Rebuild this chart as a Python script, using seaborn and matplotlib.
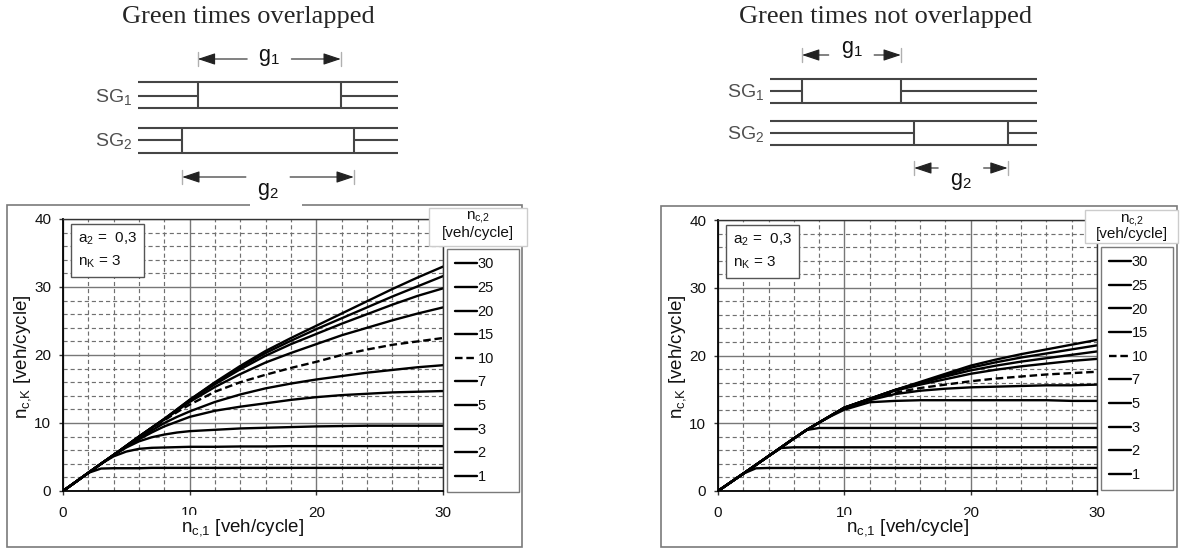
import numpy as np
import pandas as pd
import matplotlib
matplotlib.use("Agg")
import matplotlib.pyplot as plt
import seaborn as sns
from matplotlib.patches import Rectangle

# ---------------- data ----------------
x_vals = [0, 1, 2, 3, 4, 5, 6, 7, 8, 9, 10, 12, 14, 16, 18, 20, 22, 24, 26, 28, 30]
n_c2_labels = ["1", "2", "3", "5", "7", "10", "15", "20", "25", "30"]

# Green times overlapped
ov_1 = [0, 1.33, 2.67, 3.30, 3.35, 3.35, 3.35, 3.4, 3.4, 3.4, 3.4, 3.4, 3.4, 3.4, 3.4, 3.4, 3.4, 3.4, 3.4, 3.4, 3.4]
ov_2 = [0, 1.33, 2.67, 4.0, 5.1, 5.8, 6.2, 6.35, 6.4, 6.45, 6.5, 6.5, 6.55, 6.55, 6.6, 6.6, 6.6, 6.6, 6.6, 6.6, 6.6]
ov_3 = [0, 1.33, 2.67, 4.0, 5.3, 6.4, 7.3, 7.9, 8.3, 8.6, 8.8, 9.0, 9.2, 9.3, 9.4, 9.5, 9.55, 9.6, 9.6, 9.6, 9.6]
ov_5 = [0, 1.33, 2.67, 4.0, 5.3, 6.5, 7.6, 8.6, 9.5, 10.2, 10.9, 11.8, 12.4, 12.9, 13.4, 13.8, 14.1, 14.3, 14.5, 14.6, 14.7]
ov_7 = [0, 1.33, 2.67, 4.0, 5.3, 6.55, 7.8, 8.9, 10.0, 10.9, 11.7, 13.1, 14.2, 15.1, 15.8, 16.4, 16.9, 17.4, 17.8, 18.2, 18.5]
ov_10 = [0, 1.33, 2.67, 4.0, 5.3, 6.6, 7.9, 9.2, 10.4, 11.6, 12.7, 14.6, 16.0, 17.1, 18.1, 19.0, 20.0, 20.8, 21.5, 22.0, 22.5]
ov_15 = [0, 1.33, 2.67, 4.0, 5.3, 6.65, 8.0, 9.3, 10.5, 11.8, 13.1, 15.3, 17.2, 18.9, 20.3, 21.6, 22.9, 24.0, 25.1, 26.1, 27.0]
ov_20 = [0, 1.33, 2.67, 4.0, 5.3, 6.65, 8.0, 9.3, 10.6, 11.9, 13.3, 15.7, 17.9, 19.9, 21.6, 23.1, 24.6, 26.0, 27.4, 28.7, 29.8]
ov_25 = [0, 1.33, 2.67, 4.0, 5.3, 6.65, 8.0, 9.3, 10.6, 12.0, 13.4, 15.9, 18.2, 20.3, 22.1, 23.8, 25.4, 27.0, 28.6, 30.1, 31.6]
ov_30 = [0, 1.33, 2.67, 4.0, 5.3, 6.65, 8.0, 9.3, 10.6, 12.0, 13.4, 16.0, 18.4, 20.6, 22.5, 24.3, 26.1, 27.9, 29.7, 31.4, 33.0]

# Green times not overlapped
no_1 = [0, 1.28, 2.56, 3.35, 3.4, 3.4, 3.4, 3.4, 3.4, 3.4, 3.4, 3.4, 3.4, 3.4, 3.4, 3.4, 3.4, 3.4, 3.4, 3.4, 3.4]
no_2 = [0, 1.28, 2.56, 3.85, 5.15, 6.35, 6.45, 6.45, 6.45, 6.45, 6.45, 6.45, 6.45, 6.45, 6.45, 6.45, 6.45, 6.45, 6.45, 6.45, 6.45]
no_3 = [0, 1.28, 2.56, 3.85, 5.15, 6.45, 7.75, 9.0, 9.3, 9.3, 9.3, 9.3, 9.3, 9.3, 9.3, 9.3, 9.3, 9.3, 9.3, 9.3, 9.3]
no_5 = [0, 1.28, 2.56, 3.85, 5.15, 6.45, 7.75, 9.0, 10.1, 11.1, 12.0, 13.1, 13.3, 13.4, 13.4, 13.4, 13.4, 13.4, 13.4, 13.3, 13.3]
no_7 = [0, 1.28, 2.56, 3.85, 5.15, 6.45, 7.75, 9.0, 10.1, 11.2, 12.2, 13.4, 14.3, 14.8, 15.1, 15.3, 15.4, 15.5, 15.6, 15.6, 15.7]
no_10 = [0, 1.28, 2.56, 3.85, 5.15, 6.45, 7.75, 9.0, 10.1, 11.2, 12.3, 13.5, 14.5, 15.2, 15.7, 16.2, 16.6, 16.9, 17.2, 17.4, 17.6]
no_15 = [0, 1.28, 2.56, 3.85, 5.15, 6.45, 7.75, 9.0, 10.1, 11.2, 12.3, 13.6, 14.8, 15.7, 16.5, 17.3, 17.9, 18.4, 18.8, 19.2, 19.5]
no_20 = [0, 1.28, 2.56, 3.85, 5.15, 6.45, 7.75, 9.0, 10.1, 11.2, 12.3, 13.6, 14.9, 15.9, 16.9, 17.8, 18.5, 19.1, 19.6, 20.1, 20.6]
no_25 = [0, 1.28, 2.56, 3.85, 5.15, 6.45, 7.75, 9.0, 10.1, 11.2, 12.3, 13.6, 14.9, 16.0, 17.1, 18.2, 19.0, 19.7, 20.3, 20.9, 21.5]
no_30 = [0, 1.28, 2.56, 3.85, 5.15, 6.45, 7.75, 9.0, 10.1, 11.2, 12.3, 13.6, 14.9, 16.1, 17.3, 18.5, 19.4, 20.2, 20.9, 21.6, 22.3]

overlap_curves = [ov_1, ov_2, ov_3, ov_5, ov_7, ov_10, ov_15, ov_20, ov_25, ov_30]
notoverlap_curves = [no_1, no_2, no_3, no_5, no_7, no_10, no_15, no_20, no_25, no_30]

x_ticks = [0, 10, 20, 30]
y_ticks = [0, 10, 20, 30, 40]

# signal-group schematic (cycle in % of cycle time)
ov_sg1_green = (23, 78)
ov_sg2_green = (17, 83)
no_sg1_green = (12, 49)
no_sg2_green = (54, 89)

# ---------------- style ----------------
sns.set_theme(style="ticks")
plt.rcParams['font.family'] = ['Liberation Sans', 'DejaVu Sans']
plt.rcParams['mathtext.fontset'] = 'custom'
plt.rcParams['mathtext.rm'] = 'Liberation Sans'
plt.rcParams['mathtext.it'] = 'Liberation Sans:italic'
plt.rcParams['mathtext.default'] = 'regular'

W, H = 1183, 548
fig = plt.figure(figsize=(W / 100, H / 100), dpi=100)
fig.patch.set_facecolor('white')


def fr(x0, y0, x1, y1):
    return [x0 / W, 1 - y1 / H, (x1 - x0) / W, (y1 - y0) / H]


panels = [
    dict(title="Green times overlapped", title_xy=(248, 17), outer=(7, 205, 522, 547),
         axes=(63, 219, 443, 491), curves=overlap_curves,
         legend=(447, 492, 519), titlebox=(429, 208, 527, 246), tb_x=478, tb_y=(217, 233),
         diag=(138, 398), bands=((82, 96, 108), (128, 140, 153)),
         greens=(ov_sg1_green, ov_sg2_green),
         arrows=((59, 57, "g$_1$"), (177, 191, "g$_2$")),
         xlabel_x=243, white_gap=(250, 170, 302, 209)),
    dict(title="Green times not overlapped", title_xy=(886, 17), outer=(661, 206, 1177, 547),
         axes=(718, 220, 1097, 491), curves=notoverlap_curves,
         legend=(1101, 490, 1173), titlebox=(1085, 210, 1178, 243), tb_x=1132, tb_y=(220, 234),
         diag=(770, 1037), bands=((79, 91, 103), (121, 133, 145)),
         greens=(no_sg1_green, no_sg2_green),
         arrows=((55, 50, "g$_1$"), (168, 181, "g$_2$")),
         xlabel_x=908, white_gap=None),
]

line_col = '#454545'

for p in panels:
    # title
    fig.text(p['title_xy'][0] / W, 1 - p['title_xy'][1] / H, p['title'],
             family=['Liberation Serif', 'DejaVu Serif'], fontsize=19,
             ha='center', va='center')

    # outer frame
    ox0, oy0, ox1, oy1 = p['outer']
    fig.add_artist(Rectangle((ox0 / W, 1 - oy1 / H), (ox1 - ox0) / W, (oy1 - oy0) / H,
                             transform=fig.transFigure, fill=False, edgecolor='#7a7a7a',
                             lw=1.2, zorder=0.5))
    if p['white_gap'] is not None:
        gx0, gy0, gx1, gy1 = p['white_gap']
        fig.add_artist(Rectangle((gx0 / W, 1 - gy1 / H), (gx1 - gx0) / W, (gy1 - gy0) / H,
                                 transform=fig.transFigure, facecolor='white',
                                 edgecolor='none', zorder=3))

    # ---------- schematic ----------
    dx0, dx1 = p['diag']
    dax = fig.add_axes(fr(dx0, 40, dx1, 200), zorder=4)
    dax.set_xlim(0, 100)
    dax.set_ylim(200, 40)
    dax.axis('off')
    dax.patch.set_alpha(0)
    for i, ((top, mid, bot), (gs, ge)) in enumerate(zip(p['bands'], p['greens'])):
        for xs, ys in (([0, 100], [top, top]), ([0, 100], [bot, bot]),
                       ([0, gs], [mid, mid]), ([ge, 100], [mid, mid]),
                       ([gs, gs], [top, bot]), ([ge, ge], [top, bot])):
            dax.plot(xs, ys, color=line_col, lw=1.5, solid_capstyle='butt')
        dax.text(-2.2, mid + 1, "SG$_{%d}$" % (i + 1), ha='right', va='center',
                 fontsize=14, color='#505050')
        ay, ly, lab = p['arrows'][i]
        cen = (gs + ge) / 2
        gap = 8.5
        for end, start in ((gs, cen - gap), (ge, cen + gap)):
            dax.plot([end, end], [ay - 7, ay + 7], color='#b0b0b0', lw=1.0)
            dax.annotate("", xy=(end, ay), xytext=(start, ay),
                         arrowprops=dict(arrowstyle="-|>,head_length=0.9,head_width=0.3",
                                         color='#222222', lw=0.8, shrinkA=0, shrinkB=0))
        dax.text(cen, ly, lab, ha='center', va='center', fontsize=15.5, color='#111111')

    # ---------- chart ----------
    ax = fig.add_axes(fr(*p['axes']))
    rows = []
    for lab, ys in zip(n_c2_labels, p['curves']):
        for xv, yv in zip(x_vals, ys):
            rows.append((xv, yv, lab))
    df = pd.DataFrame(rows, columns=['x', 'y', 'n'])
    dashes = {lab: ((3.2, 1.6) if lab == "10" else "") for lab in n_c2_labels}
    sns.lineplot(data=df, x='x', y='y', hue='n', style='n', hue_order=n_c2_labels,
                 style_order=n_c2_labels, palette=['black'] * len(n_c2_labels),
                 dashes=dashes, estimator=None, lw=1.7, legend=False, ax=ax)

    ax.set_xlim(0, 30)
    ax.set_ylim(0, 40)
    ax.set_xticks(x_ticks)
    ax.set_yticks(y_ticks)
    ax.set_xticks([v for v in range(2, 30, 2) if v % 10], minor=True)
    ax.set_yticks([v for v in range(2, 40, 2) if v % 10], minor=True)
    ax.set_axisbelow(True)
    ax.grid(which='major', color='#777777', lw=1.0, ls='-')
    ax.grid(which='minor', color='#707070', lw=0.85, ls=(0, (3.5, 2.5)))
    ax.tick_params(which='minor', length=0)
    ax.tick_params(axis='x', which='major', direction='out', length=3, width=1,
                   color='#333333', labelsize=11, pad=8, labelcolor='#111111')
    ax.tick_params(axis='y', which='major', direction='out', length=3, width=1,
                   color='#333333', labelsize=11, pad=5.5, labelcolor='#111111')
    for s in ['left', 'bottom']:
        ax.spines[s].set_color('black')
        ax.spines[s].set_linewidth(1.3)
    for s in ['top', 'right']:
        ax.spines[s].set_color('#333333')
        ax.spines[s].set_linewidth(1.0)

    ax.set_xlabel("n$_{c{,}1}$ [veh/cycle]", fontsize=13.5, color='#111111',
                  bbox=dict(facecolor='white', edgecolor='none', boxstyle='square,pad=0.15'))
    ax.xaxis.set_label_coords((p['xlabel_x'] - p['axes'][0]) / (p['axes'][2] - p['axes'][0]),
                              (p['axes'][3] - 528) / (p['axes'][3] - p['axes'][1]))
    ax.xaxis.label.set_va('center')
    ax.set_ylabel("n$_{c{,}K}$ [veh/cycle]", fontsize=13.5, color='#111111')
    ax.yaxis.set_label_coords(-40 / (p['axes'][2] - p['axes'][0]), 0.495)
    ax.yaxis.label.set_va('center')

    # parameter box
    ax.text(0.04, 0.885, "a$_2$ =  0,3\nn$_K$ = 3", transform=ax.transAxes,
            ha='left', va='center', fontsize=11, linespacing=1.55, color='#111111',
            bbox=dict(boxstyle='square,pad=0.45', facecolor='white', edgecolor='#555555', lw=1))

    # legend
    handles = ax.get_lines()[::-1]
    labels = n_c2_labels[::-1]
    lx0, ly1, lx1 = p['legend']
    leg = ax.legend(handles, labels, loc='lower left',
                    bbox_to_anchor=(lx0 / W, 1 - ly1 / H, (lx1 - lx0) / W, 0.0),
                    bbox_transform=fig.transFigure, mode='expand', frameon=True,
                    fancybox=False, edgecolor='#7a7a7a', framealpha=1, fontsize=10.5,
                    handlelength=1.5, handletextpad=0.05, labelspacing=0.66,
                    borderpad=0.55, borderaxespad=0)
    leg.get_frame().set_linewidth(1.0)
    for t in leg.get_texts():
        t.set_color('#111111')

    # legend title box
    tx0, ty0, tx1, ty1 = p['titlebox']
    fig.add_artist(Rectangle((tx0 / W, 1 - ty1 / H), (tx1 - tx0) / W, (ty1 - ty0) / H,
                             transform=fig.transFigure, facecolor='white',
                             edgecolor='#cccccc', lw=1.0, zorder=5))
    fig.text(p['tb_x'] / W, 1 - p['tb_y'][0] / H, "n$_{c{,}2}$", ha='center', va='center',
             fontsize=11, zorder=6, color='#111111')
    fig.text(p['tb_x'] / W, 1 - p['tb_y'][1] / H, "[veh/cycle]", ha='center', va='center',
             fontsize=11, zorder=6, color='#111111')

fig.savefig("out.png", dpi=100)
